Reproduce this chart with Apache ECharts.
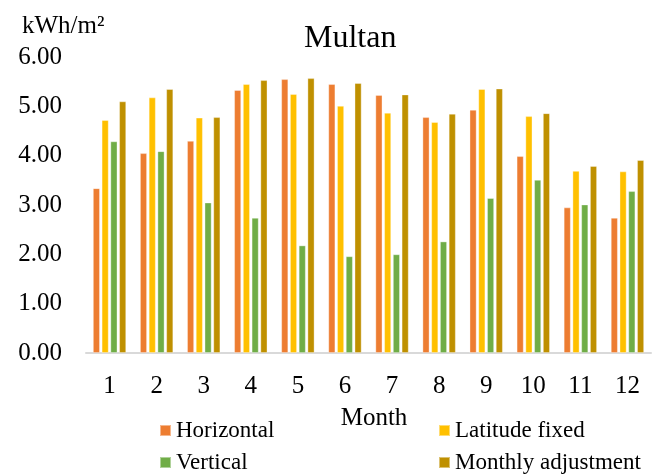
<!DOCTYPE html>
<html>
<head>
<meta charset="utf-8">
<script src="https://cdn.jsdelivr.net/npm/echarts@6/dist/echarts.min.js"></script>
<style>html,body{margin:0;padding:0;background:#fff;}#c{width:662px;height:476px;}</style>
</head>
<body>
<div id="c"></div>
<script>
const months = ['1','2','3','4','5','6','7','8','9','10','11','12'];
const horizontal = [3.34, 4.05, 4.30, 5.33, 5.55, 5.45, 5.23, 4.78, 4.93, 3.99, 2.95, 2.74];
const latitudeFixed = [4.72, 5.18, 4.77, 5.45, 5.25, 5.01, 4.87, 4.68, 5.35, 4.80, 3.69, 3.68];
const vertical = [4.29, 4.09, 3.05, 2.74, 2.18, 1.96, 2.00, 2.26, 3.14, 3.51, 3.01, 3.28];
const monthlyAdjustment = [5.10, 5.35, 4.78, 5.53, 5.57, 5.47, 5.24, 4.85, 5.36, 4.86, 3.79, 3.91];
const yTicks = [0, 1, 2, 3, 4, 5, 6];

const FONT = 'Liberation Serif';
const chart = echarts.init(document.getElementById('c'), null, {renderer: 'canvas'});
const bar = (name, data, color) => ({
  name, type: 'bar', data, barWidth: 7, barGap: '25%',
  itemStyle: {color, borderColor: 'rgba(255,255,255,0.45)', borderWidth: 0.8},
  emphasis: {disabled: true}
});
const legTS = {fontFamily: FONT, fontSize: 23, color: '#000', fontWeight: 'normal'};
const leg = (name, left, top) => ({
  data: [{name, textStyle: legTS}], left, top, itemWidth: 11, itemHeight: 11, itemGap: 0, icon: 'rect', padding: 0,
  selectedMode: false,
  formatter: '{s|{name}}',
  textStyle: Object.assign({rich: {s: legTS}}, legTS)
});
chart.setOption({
  animation: false,
  textStyle: {fontFamily: FONT, color: '#000'},
  title: [
    {text: 'Multan', left: 299, top: 18, textStyle: {fontFamily: FONT, fontSize: 32, fontWeight: 'normal', color: '#000'}},
    {text: 'kWh/m²', left: 17, top: 9, textStyle: {fontFamily: FONT, fontSize: 25, fontWeight: 'normal', color: '#000'}}
  ],
  grid: {left: 86, right: 11, top: 57, bottom: 123, containLabel: false},
  legend: [
    leg('Horizontal', 159, 419),
    leg('Vertical', 159, 451),
    leg('Latitude fixed', 438, 419),
    leg('Monthly adjustment', 438, 451)
  ],
  xAxis: {
    type: 'category', data: months,
    name: 'Month', nameLocation: 'middle', nameGap: 53,
    nameTextStyle: {fontFamily: FONT, fontSize: 25, color: '#000', padding: [0, 0, 0, 11]},
    axisLine: {lineStyle: {color: '#d9d9d9', width: 2}},
    axisTick: {show: false},
    axisLabel: {fontFamily: FONT, fontSize: 25, color: '#000', margin: 21}
  },
  yAxis: {
    type: 'value', min: yTicks[0], max: yTicks[yTicks.length - 1], interval: 1,
    axisLine: {show: false}, axisTick: {show: false}, splitLine: {show: false},
    axisLabel: {fontFamily: FONT, fontSize: 25, color: '#000', margin: 24, formatter: v => v.toFixed(2)}
  },
  series: [
    bar('Horizontal', horizontal, '#ED7D31'),
    bar('Latitude fixed', latitudeFixed, '#FFC000'),
    bar('Vertical', vertical, '#70AD47'),
    bar('Monthly adjustment', monthlyAdjustment, '#BF9000')
  ]
});
</script>
</body>
</html>
